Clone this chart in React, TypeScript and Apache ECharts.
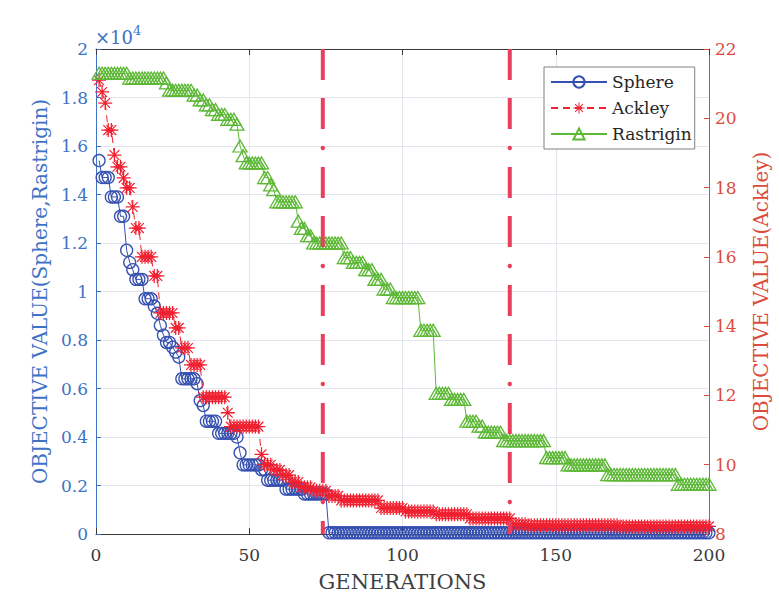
import React, { useEffect, useRef } from "react";
import * as echarts from "echarts";

// Generations 1..200 (x positions)
const generations: number[] = Array.from({ length: 200 }, (_, i) => i + 1);

// Sphere objective values (left axis, raw units)
const sphereValues: number[] = [
  15400, 14700, 14700, 14700, 13900, 13900, 13900, 13100, 13100, 11700,
  11200, 10900, 10500, 10500, 10500, 9700, 9700, 9700, 9400, 9100,
  8600, 8200, 7900, 7900, 7700, 7500, 7300, 6400, 6400, 6400,
  6400, 6400, 6200, 5500, 5300, 4650, 4650, 4650, 4650, 4150,
  4150, 4150, 4150, 4150, 4150, 4000, 3350, 2850, 2850, 2850,
  2850, 2850, 2850, 2650, 2650, 2220, 2220, 2220, 2220, 2220,
  2220, 1850, 1850, 1850, 1850, 1850, 1850, 1650, 1650, 1650,
  1650, 1650, 1650, 1650, 1650, 50, 50, 50, 50, 50,
  50, 50, 50, 50, 50, 50, 50, 50, 50, 50,
  50, 50, 50, 50, 50, 50, 50, 50, 50, 50,
  50, 50, 50, 50, 50, 50, 50, 50, 50, 50,
  50, 50, 50, 50, 50, 50, 50, 50, 50, 50,
  50, 50, 50, 50, 50, 50, 50, 50, 50, 50,
  50, 50, 50, 50, 50, 50, 50, 50, 50, 50,
  50, 50, 50, 50, 50, 50, 50, 50, 50, 50,
  50, 50, 50, 50, 50, 50, 50, 50, 50, 50,
  50, 50, 50, 50, 50, 50, 50, 50, 50, 50,
  50, 50, 50, 50, 50, 50, 50, 50, 50, 50,
  50, 50, 50, 50, 50, 50, 50, 50, 50, 50,
  50, 50, 50, 50, 50, 50, 50, 50, 50, 50,
];

// Ackley objective values (right axis)
const ackleyValues: number[] = [
  21.1, 20.76, 20.44, 19.66, 19.66, 18.94, 18.6, 18.6, 18.28, 17.99,
  17.99, 17.44, 16.83, 16.83, 16.0, 16.0, 16.0, 16.0, 15.45, 15.45,
  14.38, 14.38, 14.38, 14.38, 14.38, 13.95, 13.95, 13.37, 13.37, 13.37,
  12.88, 12.88, 12.88, 12.88, 11.95, 11.95, 11.95, 11.95, 11.95, 11.95,
  11.95, 11.95, 11.5, 11.1, 11.1, 11.1, 11.1, 11.1, 11.1, 11.1,
  11.1, 11.1, 11.1, 10.3, 10.0, 10.0, 10.0, 9.85, 9.85, 9.85,
  9.7, 9.7, 9.7, 9.5, 9.5, 9.5, 9.35, 9.35, 9.35, 9.35,
  9.25, 9.25, 9.25, 9.25, 9.25, 9.1, 9.1, 9.1, 9.1, 8.97,
  8.97, 8.97, 8.97, 8.97, 8.97, 8.97, 8.97, 8.97, 8.97, 8.97,
  8.97, 8.97, 8.75, 8.75, 8.75, 8.75, 8.75, 8.75, 8.75, 8.75,
  8.65, 8.65, 8.65, 8.65, 8.65, 8.65, 8.65, 8.65, 8.65, 8.65,
  8.57, 8.57, 8.57, 8.57, 8.57, 8.57, 8.57, 8.57, 8.57, 8.57,
  8.57, 8.45, 8.45, 8.45, 8.45, 8.45, 8.45, 8.45, 8.45, 8.45,
  8.45, 8.45, 8.45, 8.45, 8.45, 8.28, 8.28, 8.28, 8.28, 8.28,
  8.25, 8.25, 8.25, 8.25, 8.25, 8.25, 8.25, 8.25, 8.25, 8.25,
  8.25, 8.25, 8.25, 8.25, 8.25, 8.25, 8.25, 8.25, 8.25, 8.25,
  8.25, 8.25, 8.25, 8.25, 8.25, 8.25, 8.25, 8.25, 8.25, 8.25,
  8.22, 8.22, 8.22, 8.22, 8.22, 8.22, 8.22, 8.22, 8.22, 8.22,
  8.22, 8.22, 8.22, 8.22, 8.22, 8.22, 8.22, 8.22, 8.22, 8.22,
  8.22, 8.22, 8.22, 8.22, 8.22, 8.22, 8.22, 8.22, 8.22, 8.22,
];

// Rastrigin objective values (left axis, raw units)
const rastriginValues: number[] = [
  19000, 19000, 19000, 19000, 19000, 19000, 19000, 19000, 19000, 19000,
  18800, 18800, 18800, 18800, 18800, 18800, 18800, 18800, 18800, 18800,
  18800, 18800, 18600, 18300, 18300, 18300, 18300, 18300, 18300, 18300,
  18300, 18100, 18100, 17900, 17900, 17700, 17700, 17500, 17500, 17300,
  17300, 17300, 17100, 17100, 17100, 16900, 16000, 15600, 15300, 15300,
  15300, 15300, 15300, 15300, 14700, 14700, 14400, 14200, 13700, 13700,
  13700, 13700, 13700, 13700, 13700, 12900, 12600, 12600, 12300, 12300,
  12000, 12000, 12000, 12000, 12000, 12000, 12000, 12000, 12000, 12000,
  11400, 11400, 11400, 11200, 11200, 11200, 11200, 10900, 10900, 10900,
  10500, 10500, 10500, 10100, 10100, 10100, 9750, 9750, 9750, 9750,
  9750, 9750, 9750, 9750, 9750, 8400, 8400, 8400, 8400, 8400,
  5800, 5800, 5800, 5800, 5800, 5550, 5550, 5550, 5550, 5550,
  4650, 4650, 4650, 4650, 4450, 4450, 4200, 4200, 4200, 4200,
  4200, 4200, 3850, 3850, 3850, 3850, 3850, 3850, 3850, 3850,
  3850, 3850, 3850, 3850, 3850, 3850, 3150, 3150, 3150, 3150,
  3150, 3150, 3150, 2850, 2850, 2850, 2850, 2850, 2850, 2850,
  2850, 2850, 2850, 2850, 2850, 2850, 2450, 2450, 2450, 2450,
  2450, 2450, 2450, 2450, 2450, 2450, 2450, 2450, 2450, 2450,
  2450, 2450, 2450, 2450, 2450, 2450, 2450, 2450, 2450, 2050,
  2050, 2050, 2050, 2050, 2050, 2050, 2050, 2050, 2050, 2050,
];

// Vertical reference generations
const markerGenerations: number[] = [74, 135];

const LEFT_COLOR = "#3e72c4";
const RIGHT_COLOR = "#dc4a3c";
const AXIS_DARK = "#3a3a3a";
const GRID_COLOR = "#e4e4ec";
const FONT = "DejaVu Serif";

const SPHERE_COLOR = "#3550b0";
const ACKLEY_COLOR = "#f02030";
const RASTRIGIN_COLOR = "#5cb835";
const VLINE_COLOR = "#e8405c";

const ASTERISK =
  "path://M-10 -0.9 L10 -0.9 L10 0.9 L-10 0.9 Z M-0.9 -10 L0.9 -10 L0.9 10 L-0.9 10 Z M-6.4 -7.6 L7.6 6.4 L6.4 7.6 L-7.6 -6.4 Z M6.4 -7.6 L7.6 -6.4 L-6.4 7.6 L-7.6 6.4 Z";

export default function App() {
  const ref = useRef<HTMLDivElement>(null);

  useEffect(() => {
    if (!ref.current) return;
    const chart = echarts.init(ref.current, null, { renderer: "svg" });

    // dash-dot vertical line: two dashes and one dot per period
    const renderDashDot = (params: any, api: any) => {
      const g = api.value(0);
      const bottom = api.coord([g, 0]);
      const top = api.coord([g, 20000]);
      const x = bottom[0];
      const yB = bottom[1];
      const yT = top[1];
      const children: any[] = [];
      const addDash = (a: number, b: number) => {
        const y1 = Math.max(a, yT);
        const y2 = Math.min(b, yB);
        if (y2 > y1) {
          children.push({ type: "rect", shape: { x: x - 2, y: y1, width: 4, height: y2 - y1 }, style: { fill: VLINE_COLOR } });
        }
      };
      for (let k = -1; k < 6; k++) {
        const d = yB - 32 - 118 * k;
        if (d > yT && d < yB) {
          children.push({ type: "circle", shape: { cx: x, cy: d, r: 2.2 }, style: { fill: VLINE_COLOR } });
        }
        addDash(d - 50, d - 19);
        addDash(d - 99, d - 68);
      }
      return { type: "group", children };
    };

    const option: any = {
      animation: false,
      backgroundColor: "#ffffff",
      textStyle: { fontFamily: FONT },
      grid: { left: 96, right: 69, top: 49, bottom: 69, containLabel: false },
      xAxis: [
        {
          type: "value",
          min: 0,
          max: 200,
          interval: 50,
          position: "bottom",
          name: "GENERATIONS",
          nameLocation: "middle",
          nameGap: 37,
          nameTextStyle: { fontFamily: FONT, fontSize: 21, color: "#404040" },
          axisLine: { show: true, onZero: false, lineStyle: { color: AXIS_DARK, width: 1 } },
          axisTick: { show: true, inside: true, length: 6, lineStyle: { color: AXIS_DARK } },
          axisLabel: { fontFamily: FONT, fontSize: 17, color: "#3a3a3a", margin: 12 },
          splitLine: { show: true, lineStyle: { color: GRID_COLOR, width: 1 } },
        },
        {
          type: "value",
          min: 0,
          max: 200,
          interval: 50,
          position: "top",
          axisLine: { show: true, onZero: false, lineStyle: { color: AXIS_DARK, width: 1 } },
          axisTick: { show: true, inside: true, length: 6, lineStyle: { color: AXIS_DARK } },
          axisLabel: { show: false },
          splitLine: { show: false },
        },
      ],
      yAxis: [
        {
          type: "value",
          min: 0,
          max: 20000,
          interval: 2000,
          position: "left",
          name: "OBJECTIVE VALUE(Sphere,Rastrigin)",
          nameLocation: "middle",
          nameRotate: 90,
          nameGap: 44,
          nameTextStyle: { fontFamily: FONT, fontSize: 20, color: LEFT_COLOR },
          axisLine: { show: true, onZero: false, lineStyle: { color: LEFT_COLOR, width: 1 } },
          axisTick: { show: true, inside: true, length: 5, lineStyle: { color: LEFT_COLOR } },
          axisLabel: {
            fontFamily: FONT,
            fontSize: 17,
            color: LEFT_COLOR,
            margin: 8,
            formatter: (v: number) => String(+(v / 10000).toFixed(1)),
          },
          splitLine: { show: true, lineStyle: { color: GRID_COLOR, width: 1 } },
        },
        {
          type: "value",
          min: 8,
          max: 22,
          interval: 2,
          position: "right",
          name: "OBJECTIVE VALUE(Ackley)",
          nameLocation: "middle",
          nameRotate: 90,
          nameGap: 42,
          nameTextStyle: { fontFamily: FONT, fontSize: 20, color: RIGHT_COLOR },
          axisLine: { show: true, onZero: false, lineStyle: { color: RIGHT_COLOR, width: 1 } },
          axisTick: { show: true, inside: true, length: 5, lineStyle: { color: RIGHT_COLOR } },
          axisLabel: { fontFamily: FONT, fontSize: 17, color: RIGHT_COLOR, margin: 6 },
          splitLine: { show: false },
        },
      ],
      legend: {
        left: 544,
        top: 67,
        orient: "vertical",
        itemWidth: 56,
        itemHeight: 14,
        itemGap: 4,
        padding: [4, 3, 4, 6],
        backgroundColor: "#ffffff",
        borderColor: "#808080",
        borderWidth: 1,
        textStyle: { fontFamily: FONT, fontSize: 17, color: "#262626", lineHeight: 22 },
        data: ["Sphere", "Ackley", "Rastrigin"],
      },
      graphic: [
        {
          type: "text",
          left: 95,
          top: 28,
          style: { text: "×10", fontFamily: FONT, fontSize: 18, fill: LEFT_COLOR },
          z: 10,
        },
        {
          type: "text",
          left: 133,
          top: 24,
          style: { text: "4", fontFamily: FONT, fontSize: 13, fill: LEFT_COLOR },
          z: 10,
        },
      ],
      series: [
        {
          name: "Sphere",
          type: "line",
          xAxisIndex: 0,
          yAxisIndex: 0,
          data: generations.map((g, i) => [g, sphereValues[i]]),
          symbol: "circle",
          symbolSize: 12,
          showAllSymbol: true,
          itemStyle: { color: "rgba(0,0,0,0)", borderColor: SPHERE_COLOR, borderWidth: 1.3 },
          lineStyle: { color: SPHERE_COLOR, width: 1 },
          emphasis: { disabled: true },
          z: 2,
        },
        {
          name: "Ackley",
          type: "line",
          xAxisIndex: 0,
          yAxisIndex: 1,
          data: generations.map((g, i) => [g, ackleyValues[i]]),
          symbol: ASTERISK,
          symbolSize: 14,
          showAllSymbol: true,
          itemStyle: { color: ACKLEY_COLOR },
          lineStyle: { color: ACKLEY_COLOR, width: 1, type: [7, 5] },
          emphasis: { disabled: true },
          z: 3,
        },
        {
          name: "Rastrigin",
          type: "line",
          xAxisIndex: 0,
          yAxisIndex: 0,
          data: generations.map((g, i) => [g, rastriginValues[i]]),
          symbol: "triangle",
          symbolSize: [14, 12],
          showAllSymbol: true,
          itemStyle: { color: "rgba(0,0,0,0)", borderColor: RASTRIGIN_COLOR, borderWidth: 1.3 },
          lineStyle: { color: RASTRIGIN_COLOR, width: 1 },
          emphasis: { disabled: true },
          z: 3,
        },
        {
          name: "marks",
          type: "custom",
          xAxisIndex: 0,
          yAxisIndex: 0,
          data: markerGenerations.map((g) => [g]),
          encode: { x: 0 },
          renderItem: renderDashDot,
          silent: true,
          clip: false,
          z: 10,
        },
      ],
    };

    chart.setOption(option);
    return () => chart.dispose();
  }, []);

  return (
    <div
      ref={ref}
      style={{ position: "fixed", left: 0, top: 0, width: 779, height: 603, background: "#fff" }}
    />
  );
}
